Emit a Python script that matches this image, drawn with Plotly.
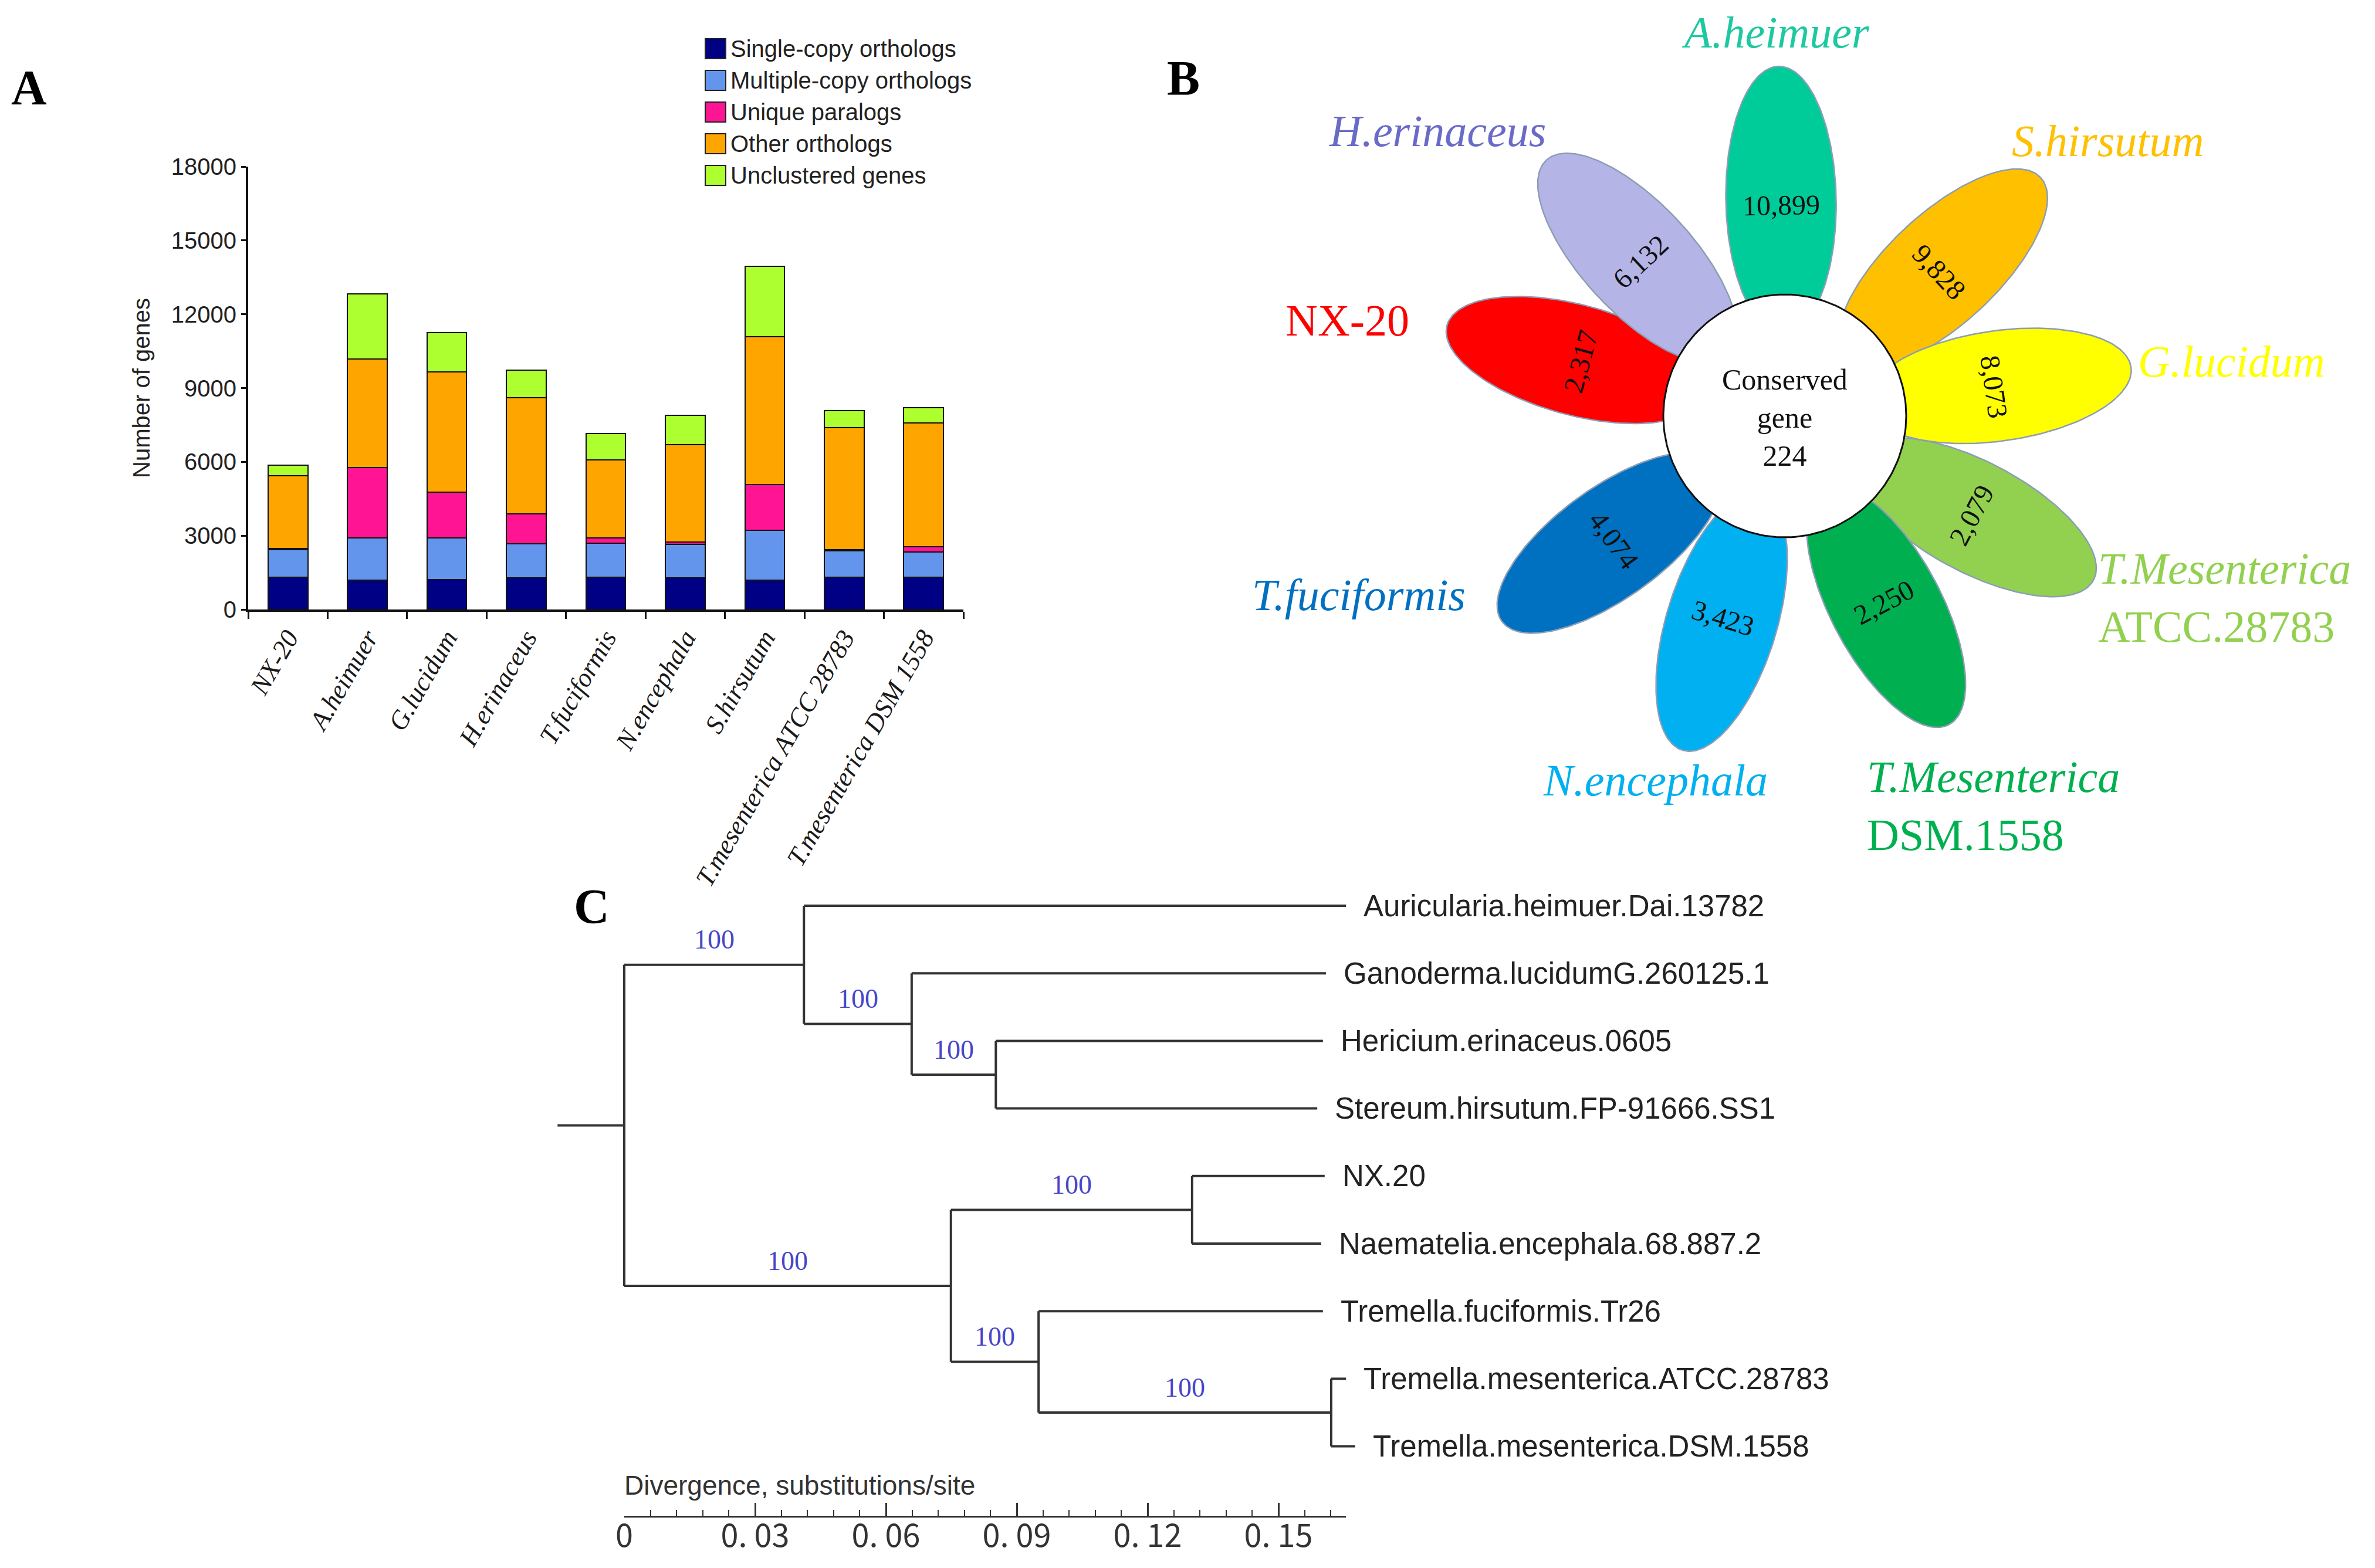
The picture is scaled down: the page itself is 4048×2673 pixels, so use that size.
import numpy as np
import plotly.graph_objects as go

# ---------------- DATA ----------------
# Panel A: stacked bars
categories = ["NX-20", "A.heimuer", "G.lucidum", "H.erinaceus", "T.fuciformis",
              "N.encephala", "S.hirsutum", "T.mesenterica ATCC 28783", "T.mesenterica DSM 1558"]
series_names = ["Single-copy orthologs", "Multiple-copy orthologs", "Unique paralogs",
                "Other orthologs", "Unclustered genes"]
single_copy = [1310, 1190, 1220, 1280, 1320, 1280, 1190, 1320, 1320]
multiple_copy = [1130, 1720, 1690, 1380, 1380, 1370, 2040, 1060, 1020]
unique_paralogs = [50, 2850, 1860, 1220, 210, 100, 1850, 50, 200]
other_orthologs = [2940, 4420, 4880, 4720, 3170, 3950, 6010, 4950, 5030]
unclustered = [435, 2640, 1600, 1130, 1070, 1200, 2860, 695, 630]
y_ticks = [0, 3000, 6000, 9000, 12000, 15000, 18000]

# Panel B: flower plot
flower_species = ["A.heimuer", "S.hirsutum", "G.lucidum", "T.Mesenterica ATCC.28783",
                  "T.Mesenterica DSM.1558", "N.encephala", "T.fuciformis", "NX-20", "H.erinaceus"]
flower_counts = [10899, 9828, 8073, 2079, 2250, 3423, 4074, 2317, 6132]
conserved_genes = 224

# Panel C: phylogenetic tree
tip_labels = ["Auricularia.heimuer.Dai.13782", "Ganoderma.lucidumG.260125.1",
              "Hericium.erinaceus.0605", "Stereum.hirsutum.FP-91666.SS1", "NX.20",
              "Naematelia.encephala.68.887.2", "Tremella.fuciformis.Tr26",
              "Tremella.mesenterica.ATCC.28783", "Tremella.mesenterica.DSM.1558"]
tip_divergence = [0.1655, 0.1609, 0.1602, 0.1589, 0.1606, 0.1598, 0.1602, 0.1655, 0.1676]
node_names = ["root", "n1", "n2", "n3", "n4", "n5", "n6", "n7"]
node_divergence = [0.0, 0.0412, 0.0659, 0.0852, 0.0749, 0.1302, 0.0950, 0.1621]
node_children = [["n1", "n4"], ["t0", "n2"], ["t1", "n3"], ["t2", "t3"],
                 ["n5", "n6"], ["t4", "t5"], ["t6", "n7"], ["t7", "t8"]]
node_bootstrap = [None, 100, 100, 100, 100, 100, 100, 100]
scale_ticks = [0, 0.03, 0.06, 0.09, 0.12, 0.15]
scale_ticktext = ["0", "0. 03", "0. 06", "0. 09", "0. 12", "0. 15"]

# ---------------- STYLE / LAYOUT ----------------
W, H = 4048, 2673
SERIF = "Liberation Serif"
SANS = "Liberation Sans"


def fx(px):
    return px / W


def fy(py):
    return 1 - py / H


bar_colors = ["#000085", "#6495ED", "#FF1493", "#FFA500", "#ADFF2F"]
petal_colors = ["#00CC99", "#FFC000", "#FFFF00", "#92D050", "#00B050",
                "#00B0F0", "#0070C0", "#FF0000", "#B4B4E6"]
label_colors = ["#1EC8A0", "#FFC000", "#FFFF00", "#92D050", "#00B050",
                "#00B0F0", "#0070C0", "#FF0000", "#6A6AC8"]
petal_angle = [91, 43, 8, -28, -62, -107, -144, 165, 133]
# label placement (pixel positions, anchor)
label_pos = [(3026, 55, "center"), (3592, 240, "center"), (3803, 616, "center"),
             (3574, 1019, "left"), (3180, 1373, "left"), (2821, 1330, "center"),
             (2316, 1014, "center"), (2296, 546, "center"), (2450, 223, "center")]

fig = go.Figure()

# ---------------- PANEL A ----------------
all_series = [single_copy, multiple_copy, unique_paralogs, other_orthologs, unclustered]
for name, vals, col in zip(series_names, all_series, bar_colors):
    fig.add_trace(go.Bar(x=categories, y=vals, name=name, showlegend=False,
                         marker=dict(color=col, line=dict(color="#111111", width=2)),
                         xaxis="x", yaxis="y", hoverinfo="skip"))

shapes = []
annotations = []
# manual legend
for i, (name, col) in enumerate(zip(series_names, bar_colors)):
    cy = 83 + 54 * i
    shapes.append(dict(type="rect", xref="paper", yref="paper",
                       x0=fx(1202), x1=fx(1237), y0=fy(cy + 17), y1=fy(cy - 17),
                       fillcolor=col, line=dict(color="#222222", width=2)))
    annotations.append(dict(text=name, xref="paper", yref="paper", x=fx(1243), y=fy(cy),
                            xanchor="left", yanchor="middle", showarrow=False,
                            font=dict(family=SANS, size=40, color="#222222")))

# ---------------- PANEL B ----------------
CX, CY = 3042, 709
D_PETAL, A_PETAL, B_PETAL = 368, 228, 94
t = np.linspace(0, 2 * np.pi, 200)
for ang, col in zip(petal_angle, petal_colors):
    th = np.deg2rad(ang)
    u = np.array([np.cos(th), np.sin(th)])
    v = np.array([-np.sin(th), np.cos(th)])
    px_ = D_PETAL * u[0] + A_PETAL * np.cos(t) * u[0] + B_PETAL * np.sin(t) * v[0]
    py_ = D_PETAL * u[1] + A_PETAL * np.cos(t) * u[1] + B_PETAL * np.sin(t) * v[1]
    fig.add_trace(go.Scatter(x=px_, y=py_, mode="lines", fill="toself", fillcolor=col,
                             line=dict(color="#8C9DB5", width=2.5), showlegend=False,
                             hoverinfo="skip", xaxis="x2", yaxis="y2"))
R_C = 207
fig.add_trace(go.Scatter(x=R_C * np.cos(t), y=R_C * np.sin(t), mode="lines", fill="toself",
                         fillcolor="white", line=dict(color="#111111", width=3),
                         showlegend=False, hoverinfo="skip", xaxis="x2", yaxis="y2"))
annotations.append(dict(text=f"Conserved<br>gene<br>{conserved_genes}", xref="x2", yref="y2",
                        x=0, y=-3, xanchor="center", yanchor="middle", showarrow=False,
                        align="center", font=dict(family=SERIF, size=50, color="#111111")))
for ang, cnt in zip(petal_angle, flower_counts):
    th = np.deg2rad(ang)
    ta = 90 - ang
    while ta > 90:
        ta -= 180
    while ta <= -90:
        ta += 180
    annotations.append(dict(text=f"{cnt:,}", xref="x2", yref="y2",
                            x=360 * np.cos(th), y=360 * np.sin(th), textangle=ta,
                            xanchor="center", yanchor="middle", showarrow=False,
                            font=dict(family=SERIF, size=48, color="#111111")))
for name, col, (lx, ly, anc) in zip(flower_species, label_colors, label_pos):
    parts = name.split(" ")
    if name.startswith("NX"):
        txt = name
    elif len(parts) == 2:
        txt = f"<i>{parts[0]}</i><br>{parts[1]}"
    else:
        txt = f"<i>{name}</i>"
    annotations.append(dict(text=txt, xref="paper", yref="paper", x=fx(lx), y=fy(ly),
                            xanchor=anc, yanchor="middle", align="left", showarrow=False,
                            font=dict(family=SERIF, size=76, color=col)))

# ---------------- PANEL C ----------------
depth = {}
for i, d in enumerate(tip_divergence):
    depth[f"t{i}"] = d
for n, d in zip(node_names, node_divergence):
    depth[n] = d
children = dict(zip(node_names, node_children))
boot = dict(zip(node_names, node_bootstrap))
ypos = {f"t{i}": float(i) for i in range(len(tip_labels))}


def get_y(n):
    if n not in ypos:
        ypos[n] = float(np.mean([get_y(c) for c in children[n]]))
    return ypos[n]


get_y("root")
parent = {c: p for p, cs in children.items() for c in cs}
lx, ly = [], []
ROOT_STUB = 0.0153
lx += [-ROOT_STUB, depth["root"], None]
ly += [ypos["root"], ypos["root"], None]
for n, cs in children.items():
    ys = [ypos[c] for c in cs]
    lx += [depth[n], depth[n], None]
    ly += [min(ys), max(ys), None]
    for c in cs:
        lx += [depth[n], depth[c], None]
        ly += [ypos[c], ypos[c], None]
fig.add_trace(go.Scatter(x=lx, y=ly, mode="lines", line=dict(color="#333333", width=4),
                         showlegend=False, hoverinfo="skip", xaxis="x4", yaxis="y4"))
for i, lab in enumerate(tip_labels):
    annotations.append(dict(text=lab, xref="x4", yref="y4", x=tip_divergence[i], y=i,
                            xanchor="left", yanchor="middle", xshift=28, showarrow=False,
                            font=dict(family=SANS, size=51, color="#222222")))
for n in node_names:
    if boot[n] is None:
        continue
    p = parent[n]
    annotations.append(dict(text=str(boot[n]), xref="x4", yref="y4",
                            x=(depth[p] + depth[n]) / 2, y=ypos[n], yshift=43,
                            xanchor="center", yanchor="middle", showarrow=False,
                            font=dict(family=SERIF, size=46, color="#4646C8")))
# scale axis holder
fig.add_trace(go.Scatter(x=[0, 0.1655], y=[0.5, 0.5], mode="markers", marker=dict(opacity=0),
                         showlegend=False, hoverinfo="skip", xaxis="x3", yaxis="y3"))
annotations.append(dict(text="Divergence, substitutions/site", xref="paper", yref="paper",
                        x=fx(1062), y=fy(2532), xanchor="left", yanchor="middle", showarrow=False,
                        font=dict(family=SANS, size=46, color="#333333")))

# panel letters
for letter, (px_, py_) in zip(["A", "B", "C"], [(49, 150), (2017, 134), (1008, 1545)]):
    annotations.append(dict(text=f"<b>{letter}</b>", xref="paper", yref="paper", x=fx(px_),
                            y=fy(py_), xanchor="center", yanchor="middle", showarrow=False,
                            font=dict(family=SERIF, size=84, color="#000000")))

# tree axis geometry
PX_PER_UNIT = (2179 - 1064) / 0.15
ORIGIN_PX = 1064
TIP0_PX, TIP_STEP = 1544, 115.2

fig.update_layout(
    template="none",
    width=W, height=H, margin=dict(l=0, r=0, t=0, b=0, pad=0, autoexpand=False),
    paper_bgcolor="white", plot_bgcolor="rgba(0,0,0,0)",
    barmode="stack", bargap=0.5, showlegend=False,
    shapes=shapes, annotations=annotations,
    xaxis=dict(domain=[fx(423), fx(1642)], anchor="y", type="category", automargin=False,
               showline=True, linecolor="#111111", linewidth=4,
               ticks="outside", tickson="boundaries", ticklen=12, tickwidth=3,
               tickcolor="#111111", tickangle=-60, showgrid=False, zeroline=False,
               tickfont=dict(family=SERIF, size=45, color="#1a1a1a", style="italic"),
               fixedrange=True),
    yaxis=dict(domain=[fy(1039), fy(284)], anchor="x", range=[0, 18000], automargin=False,
               tickmode="array", tickvals=y_ticks, tickformat="d",
               showline=True, linecolor="#111111",
               linewidth=4, ticks="outside", ticklen=8, tickwidth=3, tickcolor="#111111",
               showgrid=False, zeroline=False,
               tickfont=dict(family=SANS, size=40, color="#222222"),
               title=dict(text="Number of genes", standoff=25,
                          font=dict(family=SANS, size=40, color="#222222")),
               fixedrange=True),
    xaxis2=dict(domain=[fx(2000), fx(4040)], anchor="y2", range=[2000 - CX, 4040 - CX],
                visible=False, fixedrange=True, automargin=False),
    yaxis2=dict(domain=[fy(1500), fy(0)], anchor="x2", range=[CY - 1500, CY],
                visible=False, fixedrange=True, automargin=False),
    xaxis3=dict(domain=[fx(ORIGIN_PX), fx(ORIGIN_PX + 0.1655 * PX_PER_UNIT)], anchor="y3",
                range=[0, 0.1655], showline=True, linecolor="#333333", linewidth=3,
                ticks="inside", ticklen=22, tickwidth=3, tickcolor="#333333",
                tickmode="array", tickvals=scale_ticks, ticktext=scale_ticktext,
                ticklabelstandoff=-15,
                tickfont=dict(family="Noto Sans CJK SC", size=54, color="#333333"),
                minor=dict(ticks="inside", ticklen=10, tickwidth=2, tickcolor="#333333",
                           tick0=0, dtick=0.006, showgrid=False),
                showgrid=False, zeroline=False, fixedrange=True, automargin=False),
    yaxis3=dict(domain=[fy(2584), fy(2560)], anchor="x3", range=[0, 1], visible=False,
                fixedrange=True, automargin=False),
    xaxis4=dict(domain=[fx(900), fx(3000)], anchor="y4",
                range=[(900 - ORIGIN_PX) / PX_PER_UNIT, (3000 - ORIGIN_PX) / PX_PER_UNIT],
                visible=False, fixedrange=True, automargin=False),
    yaxis4=dict(domain=[fy(2520), fy(1470)], anchor="x4",
                range=[(2520 - TIP0_PX) / TIP_STEP, (1470 - TIP0_PX) / TIP_STEP],
                visible=False, fixedrange=True, automargin=False),
)

fig.write_html("out.html", config={"displayModeBar": False},
               post_script="document.body.style.margin='0';document.body.style.overflow='hidden';")
